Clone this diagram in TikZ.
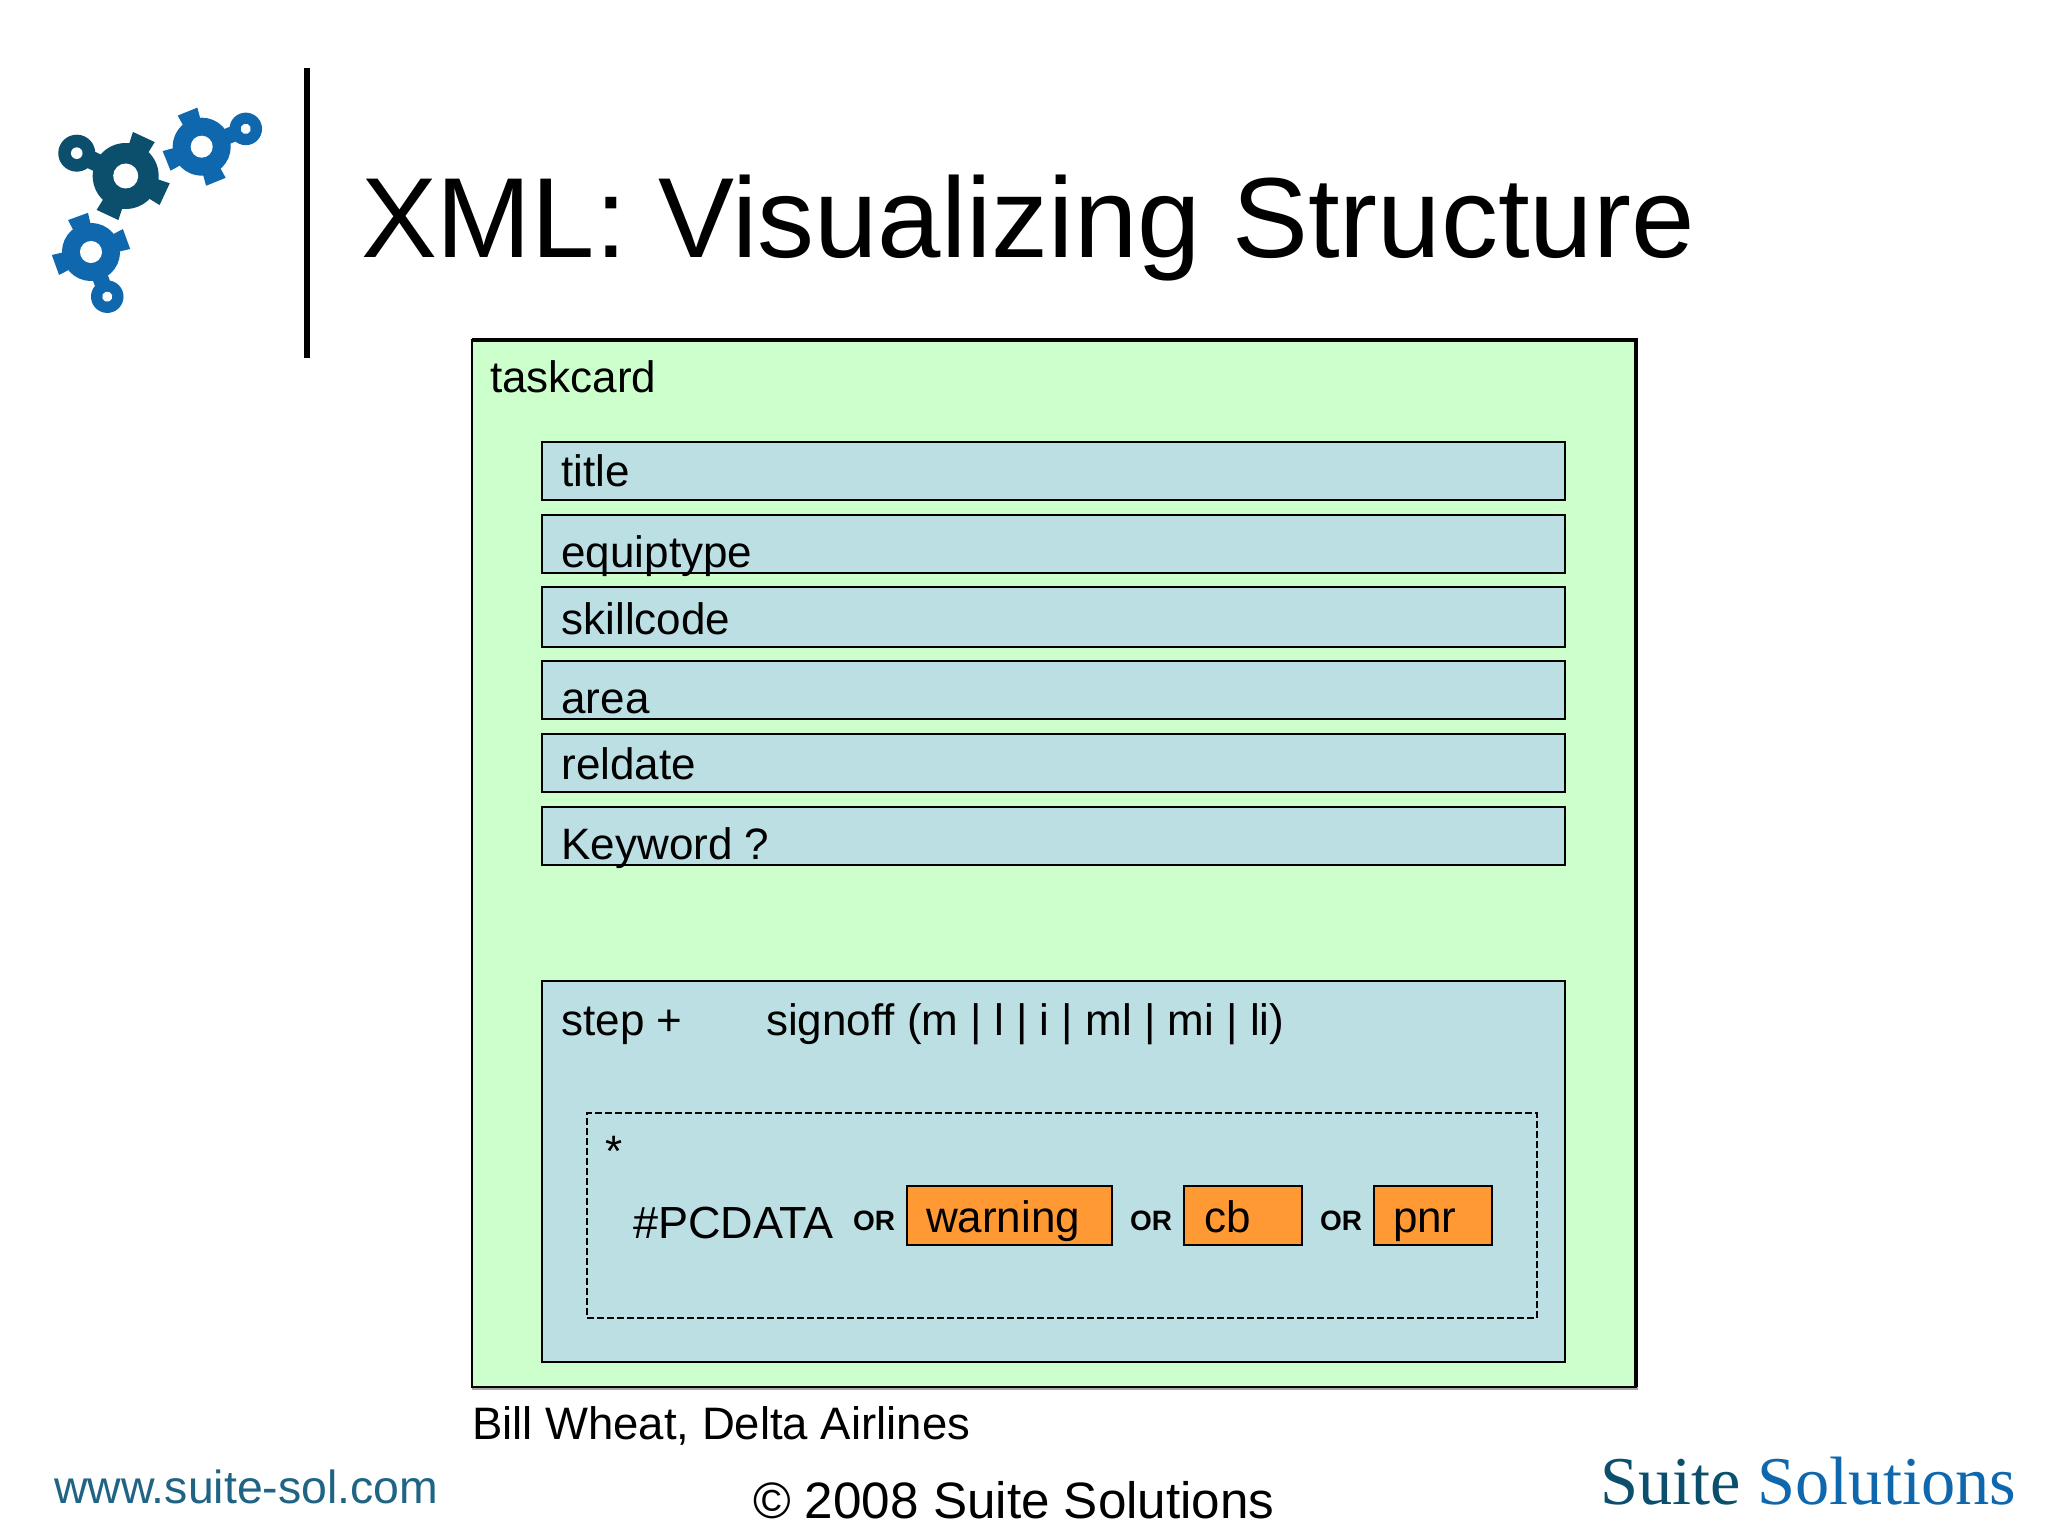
\documentclass[tikz,border=0pt]{standalone}
\usepackage{fontspec}
\setmainfont{Liberation Sans}
\newfontfamily\logoserif{Liberation Serif}
\definecolor{outergreen}{HTML}{CCFFCC}
\definecolor{innerblue}{HTML}{BBDFE3}
\definecolor{tagorange}{HTML}{FF9933}
\definecolor{gearDark}{HTML}{0B4F6C}
\definecolor{gearBlue}{HTML}{0F68AE}
\definecolor{wwwteal}{HTML}{1F6484}
\newcommand{\fs}[1]{\fontsize{#1pt}{#1pt}\selectfont}
\newcommand{\gearmark}[5]{% x y angle scale colour
  \begin{scope}[shift={(#1,#2)},rotate=#3,scale=#4]
    \fill[#5] (0,0) circle[radius=33];
    \foreach \a in {90,180,270}{
      \fill[#5,rotate=\a] (26,-10) -- (43,-12) -- (43,12) -- (26,10) -- cycle;
    }
    \fill[#5] (20,-9) rectangle (46,9);
    \fill[#5] (54,0) circle[radius=18.5];
    \fill[white] (0,0) circle[radius=12.5];
    \fill[white] (54,0) circle[radius=5.8];
  \end{scope}}
\tikzset{
  x=1pt,y=-1pt,
  box/.style={draw=black,line width=2pt,fill=innerblue,anchor=north west,inner sep=0pt,outer sep=0pt,minimum width=1023pt,minimum height=58pt},
  tag/.style={draw=black,line width=2pt,fill=tagorange,anchor=north west,inner sep=0pt,outer sep=0pt,minimum height=59pt},
  lbl/.style={anchor=base west,inner sep=0pt,outer sep=0pt,font=\fs{44}},
  orlbl/.style={anchor=base west,inner sep=0pt,outer sep=0pt,font=\bfseries\fs{28}},
  foot/.style={anchor=base west,inner sep=0pt,outer sep=0pt},
}
\begin{document}
\begin{tikzpicture}
\useasboundingbox (0,0) rectangle (2048,1536);
\fill[white] (0,0) rectangle (2048,1536);
% logo
\gearmark{125.7}{176}{155}{1}{gearDark}
\gearmark{201.7}{146.7}{22}{0.88}{gearBlue}
\gearmark{91}{252}{-70}{0.88}{gearBlue}
\draw[line width=6pt,black] (307,68) -- (307,358);
\node[foot,font=\fs{113.9}] (heading) at (361,257) {XML: Visualizing Structure};
% outer box
\fill[gray!70] (472,1387) rectangle (1638,1390);
\node[draw=black,line width=1.5pt,fill=outergreen,anchor=north west,inner sep=0pt,outer sep=0pt,minimum width=1164pt,minimum height=1047pt] (taskcard) at (472,340) {};
\draw[line width=3.5pt,black] (taskcard.north west) -- (taskcard.north east) -- (taskcard.south east);
\node[lbl] (taskcardlbl) at (490,392) {taskcard};
% child boxes
\node[box] (title) at (542,442) {};
\node[box] (equiptype) at (542,515) {};
\node[box,minimum height=60pt] (skillcode) at (542,587) {};
\node[box] (area) at (542,661) {};
\node[box] (reldate) at (542,734) {};
\node[box] (keyword) at (542,807) {};
\node[box,minimum height=381pt] (stepbox) at (542,981) {};
\node[lbl] (titlelbl) at (561.5,486) {title};
\node[lbl] (equiplbl) at (561.5,567) {equiptype};
\node[lbl] (skilllbl) at (561.5,634) {skillcode};
\node[lbl] (arealbl) at (561.5,713) {area};
\node[lbl] (rellbl) at (561.5,779) {reldate};
\node[lbl] (keylbl) at (561.5,859) {Keyword ?};
\node[lbl] (steplbl) at (561.5,1035) {step +};
\node[lbl] (signlbl) at (766,1035) {signoff (m | l | i | ml | mi | li)};
% dashed group
\node[draw=black,line width=2pt,dash pattern=on 7pt off 3pt,anchor=north west,inner sep=0pt,outer sep=0pt,minimum width=950pt,minimum height=205pt] (group) at (586.5,1113) {};
\node[lbl] (star) at (605,1166) {*};
\node[lbl,font=\fs{45}] (pcdata) at (633,1238) {\#PCDATA};
\node[orlbl] (or1) at (853,1230) {OR};
\node[tag,minimum width=205pt] (warning) at (907,1186) {};
\node[lbl] (warnlbl) at (926,1232) {warning};
\node[orlbl] (or2) at (1130,1230) {OR};
\node[tag,minimum width=118pt] (cb) at (1184,1186) {};
\node[lbl] (cblbl) at (1204,1232) {cb};
\node[orlbl] (or3) at (1320,1230) {OR};
\node[tag,minimum width=118pt] (pnr) at (1374,1186) {};
\node[lbl] (pnrlbl) at (1393,1232) {pnr};
% footer
\node[foot,font=\fs{45.5}] (credit) at (472,1439) {Bill Wheat, Delta Airlines};
\node[foot,font=\fs{51.2}] (copyr) at (753,1518) {© 2008 Suite Solutions};
\node[foot,font=\fs{46.4},text=wwwteal] (www) at (54,1503) {www.suite-sol.com};
\node[foot,font=\logoserif\fs{68.4}] (brand) at (1600,1504) {\textcolor{gearDark}{Suite} \textcolor{gearBlue}{Solutions}};
\end{tikzpicture}
\end{document}
